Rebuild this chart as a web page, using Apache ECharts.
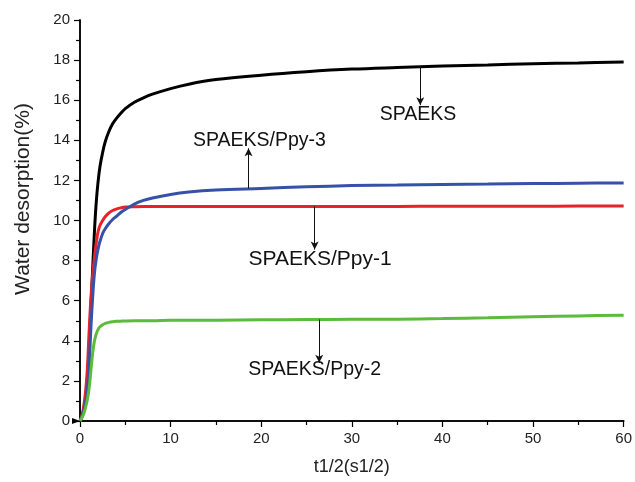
<!DOCTYPE html>
<html><head><meta charset="utf-8">
<script src="https://cdn.jsdelivr.net/npm/echarts@6/dist/echarts.min.js"></script>
<style>html,body{margin:0;padding:0;background:#fff}#c{width:635px;height:482px}</style>
</head><body><div id="c"></div>
<script>
var xs     = [0,0.2,0.4,0.6,0.8,1.0,1.2,1.4,1.6,1.8,2.0,2.2,2.5,2.8,3.2,3.6,4,4.5,5,6,7,8,10,12,15,20,25,30,35,40,45,50,55,60];
var spaeks = [0,0.2,0.55,1.1,2.0,3.6,5.6,7.6,9.5,10.95,11.95,12.68,13.4,13.95,14.45,14.82,15.08,15.35,15.58,15.9,16.12,16.3,16.58,16.8,17.03,17.25,17.42,17.55,17.63,17.7,17.76,17.82,17.86,17.9];
var ppy1   = [0,0.25,0.7,1.4,2.5,4.4,6.1,7.3,8.2,8.9,9.45,9.75,10.0,10.2,10.38,10.5,10.57,10.63,10.67,10.69,10.7,10.7,10.7,10.7,10.7,10.7,10.7,10.7,10.7,10.71,10.71,10.71,10.72,10.72];
var ppy3   = [0,0.2,0.5,0.9,1.5,2.7,4.6,6.2,7.4,8.1,8.6,8.95,9.35,9.6,9.85,10.05,10.2,10.4,10.55,10.82,11.0,11.12,11.3,11.42,11.52,11.6,11.68,11.74,11.77,11.8,11.82,11.84,11.86,11.87];
var ppy2   = [0,0.15,0.35,0.65,1.05,1.6,2.5,3.4,4.0,4.35,4.57,4.7,4.8,4.87,4.92,4.95,4.97,4.98,4.99,5.0,5.0,5.0,5.02,5.02,5.03,5.05,5.06,5.07,5.08,5.11,5.15,5.2,5.24,5.28];
var xTicks = [0,10,20,30,40,50,60];
var yTicks = [0,2,4,6,8,10,12,14,16,18,20];
var labels = ['SPAEKS','SPAEKS/Ppy-3','SPAEKS/Ppy-1','SPAEKS/Ppy-2'];

function pairs(ys){ return xs.map(function(x,i){return [x, ys[i]];}); }
var FONT = '"Liberation Sans", Arial, sans-serif';
var chart = echarts.init(document.getElementById('c'), null, {renderer:'canvas'});

function ann(arrowX, fromY, toY, textX, textY, text, fs){
  return {
    markLine: {
      silent:true, animation:false,
      symbol:['none','arrow'], symbolSize:[6,8],
      lineStyle:{color:'#111', width:1, type:'solid'},
      label:{show:false},
      data:[[{coord:[arrowX, fromY]},{coord:[arrowX, toY]}]]
    },
    markPoint: {
      silent:true, animation:false,
      symbol:'circle', symbolSize:0,
      label:{show:true, position:'inside', formatter:text, color:'#111', fontSize:fs, fontFamily:FONT},
      data:[{coord:[textX, textY]}]
    }
  };
}

function mkSeries(name, ys, color, a){
  var s = {
    name:name, type:'line', data:pairs(ys), smooth:0.35, showSymbol:false,
    lineStyle:{color:color, width:3}, itemStyle:{color:color}, z:2, animation:false
  };
  if (a) { s.markLine = a.markLine; s.markPoint = a.markPoint; }
  return s;
}

var s0 = mkSeries(labels[0], spaeks, '#000000', ann(37.55, 17.68, 15.75, 37.3, 15.3, labels[0], 19.5));
s0.markPoint.data.push({coord:[0,0], symbol:'triangle', symbolSize:[6,8], symbolRotate:-90, symbolOffset:[-4,0],
  itemStyle:{color:'#000'}, label:{show:false}});

var axisLine = {show:true, lineStyle:{color:'#000', width:1.5}};
chart.setOption({
  animation:false,
  backgroundColor:'#fff',
  grid:{left:80, right:10, top:20, bottom:61},
  graphic:[{
    type:'text', x:23, y:199, rotation:Math.PI/2,
    style:{text:'Water desorption(%)', x:0, y:0, textAlign:'center', textVerticalAlign:'middle',
      fontSize:21, fontFamily:FONT, fill:'#222'}
  }],
  xAxis:[{
    type:'value', min:0, max:60, interval:10,
    name:'t1/2(s1/2)', nameLocation:'middle', nameGap:37,
    nameTextStyle:{fontSize:18, color:'#222', fontFamily:FONT},
    axisLine:axisLine,
    axisTick:{show:true, length:6, lineStyle:{color:'#000', width:1.2}},
    minorTick:{show:true, splitNumber:2, length:4, lineStyle:{color:'#000', width:1.2}},
    axisLabel:{fontSize:15, color:'#222', fontFamily:FONT, margin:10,
      formatter:function(v){return xTicks.indexOf(v)>=0 ? String(v) : '';}},
    splitLine:{show:false}
  },{
    type:'value', position:'top', min:0, max:60, axisLine:axisLine,
    axisTick:{show:false}, axisLabel:{show:false}, splitLine:{show:false}
  }],
  yAxis:[{
    type:'value', min:0, max:20, interval:2,
    axisLine:axisLine,
    axisTick:{show:true, length:6, lineStyle:{color:'#000', width:1.2}},
    minorTick:{show:true, splitNumber:2, length:4, lineStyle:{color:'#000', width:1.2}},
    axisLabel:{fontSize:15, color:'#222', fontFamily:FONT, margin:10,
      formatter:function(v){return yTicks.indexOf(v)>=0 ? String(v) : '';}},
    splitLine:{show:false}
  },{
    type:'value', position:'right', min:0, max:20, axisLine:axisLine,
    axisTick:{show:false}, axisLabel:{show:false}, splitLine:{show:false}
  }],
  series:[
    s0,
    mkSeries(labels[2], ppy1, '#e8212a', ann(25.9, 10.7, 8.55, 26.5, 8.08, labels[2], 21)),
    mkSeries(labels[1], ppy3, '#3651a8', ann(18.6, 11.6, 13.6, 19.8, 13.98, labels[1], 19.5)),
    mkSeries(labels[3], ppy2, '#5cba3c', ann(26.4, 5.06, 2.9, 25.9, 2.54, labels[3], 19.5))
  ]
});
</script></body></html>
